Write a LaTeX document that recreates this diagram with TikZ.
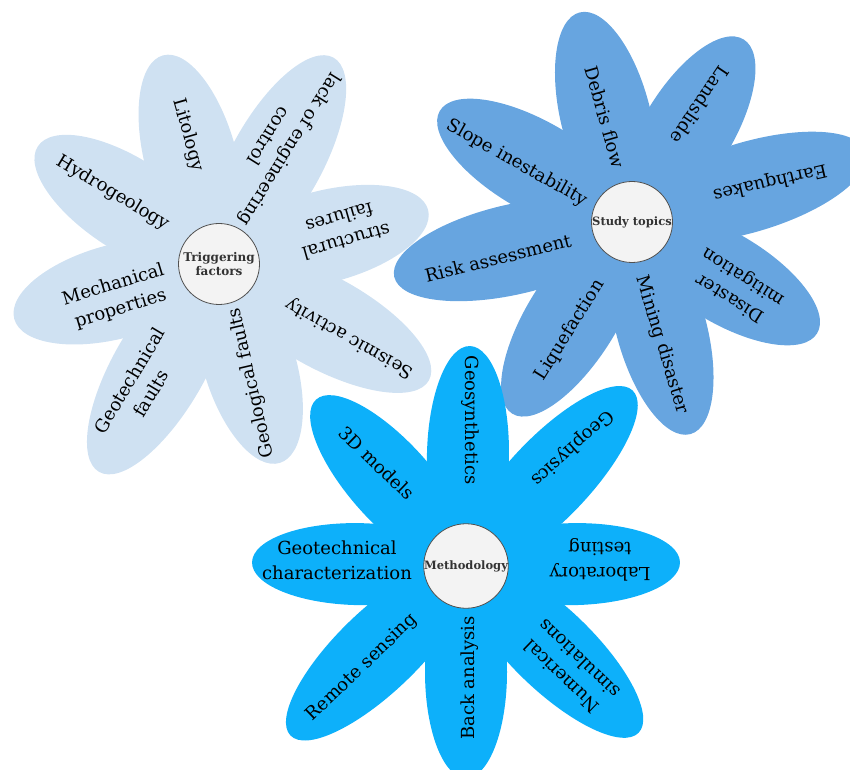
\documentclass[tikz,border=0pt]{standalone}
\usepackage{fontspec}
\setmainfont{DejaVu Serif}
\definecolor{fone}{HTML}{CFE1F2}
\definecolor{ftwo}{HTML}{67A5E0}
\definecolor{fthree}{HTML}{0DB0FA}
\definecolor{hubfill}{HTML}{F3F3F3}
\definecolor{hubline}{HTML}{505050}
\definecolor{hubtext}{HTML}{333333}
% colour, centre coordinate, angle, half length, half width
\newcommand\petalshape[5]{%
  \begin{scope}[shift={(#2)}, rotate=#3]
    \fill[#1] (#4,0) ellipse [x radius=#4pt, y radius=#5pt];
  \end{scope}}
\tikzset{
  lbl/.style={font=\fontsize{18}{25}\selectfont, align=center, inner sep=0pt, text=black},
  hubnode/.style={circle, draw=hubline, line width=0.8pt, fill=hubfill, minimum size=81pt,
    inner sep=0pt, font=\fontsize{11.5}{14}\selectfont\bfseries, text=hubtext, align=center}
}
\begin{document}
\begin{tikzpicture}[x=1pt, y=1pt]
\useasboundingbox (0,0) rectangle (850,769);
\coordinate (c1) at (219,505);
\coordinate (c2) at (632,547);
\coordinate (c3) at (466,203);
% ---------- flower 1 : Triggering factors ----------
\petalshape{fone}{c1}{105}{108}{46}
\petalshape{fone}{c1}{61}{118}{46}
\petalshape{fone}{c1}{14.5}{108}{46}
\petalshape{fone}{c1}{-29}{120}{46}
\petalshape{fone}{c1}{-73}{104}{46}
\petalshape{fone}{c1}{-120}{120}{46}
\petalshape{fone}{c1}{195}{106}{47}
\petalshape{fone}{c1}{147}{108}{46}
\node[lbl, rotate=-74] (litology) at (188,634) {Litology};
\node[lbl, rotate=238] (lack) at (280,626) {lack of engineering\\control};
\node[lbl, rotate=196] (structural) at (343,539) {structural\\failures};
\node[lbl, rotate=150.5] (seismic) at (350,431) {Seismic activity};
\node[lbl, rotate=103] (geofaults) at (252,386) {Geological faults};
\node[lbl, rotate=59] (gtfaults) at (140,382) {Geotechnical\\faults};
\node[lbl, rotate=17] (mech) at (117,472) {Mechanical\\properties};
\node[lbl, rotate=-31] (hydro) at (113,576) {Hydrogeology};
\node[hubnode, font=\fontsize{12}{14}\selectfont\bfseries] (hub1) at (c1) {Triggering\\factors};
% ---------- flower 2 : Study topics ----------
\petalshape{ftwo}{c2}{104}{108}{45}
\petalshape{ftwo}{c2}{58.6}{107}{45}
\petalshape{ftwo}{c2}{16.6}{122}{45}
\petalshape{ftwo}{c2}{-31}{108}{45}
\petalshape{ftwo}{c2}{-74.6}{110}{45}
\petalshape{ftwo}{c2}{-122}{113}{45}
\petalshape{ftwo}{c2}{193}{122}{45}
\petalshape{ftwo}{c2}{150}{111}{45}
\node[lbl, rotate=-74] (debris) at (605,652) {Debris flow};
\node[lbl, rotate=236] (landslide) at (700,664) {Landslide};
\node[lbl, rotate=193] (earthq) at (770,587) {Earthquakes};
\node[lbl, rotate=148] (disaster) at (737,482) {Disaster\\mitigation};
\node[lbl, rotate=-73] (mining) at (662,424) {Mining disaster};
\node[lbl, rotate=58] (liquef) at (570,439) {Liquefaction};
\node[lbl, rotate=14] (risk) at (498,511) {Risk assessment};
\node[lbl, rotate=-29.5] (slope) at (517,606) {Slope inestability};
\node[hubnode] (hub2) at (c2) {Study topics};
% ---------- flower 3 : Methodology ----------
\petalshape{fthree}{c3}{89}{110}{41}
\petalshape{fthree}{c3}{46.5}{121}{41}
\petalshape{fthree}{c3}{1}{107}{41}
\petalshape{fthree}{c3}{-44}{120}{41}
\petalshape{fthree}{c3}{-90}{106}{41}
\petalshape{fthree}{c3}{-136}{122}{41}
\petalshape{fthree}{c3}{179}{107}{41}
\petalshape{fthree}{c3}{132}{112}{41}
\node[lbl, rotate=-90] (geosyn) at (470,349) {Geosynthetics};
\node[lbl, rotate=222] (geophys) at (572,321) {Geophysics};
\node[lbl, rotate=180] (lab) at (600,209) {Laboratory\\testing};
\node[lbl, rotate=136] (numerical) at (570,101) {Numerical\\simulations};
\node[lbl, rotate=90] (back) at (470,91) {Back analysis};
\node[lbl, rotate=44] (remote) at (362,101) {Remote sensing};
\node[lbl, rotate=0] (gtchar) at (337,209) {Geotechnical\\characterization};
\node[lbl, rotate=-44] (models) at (377,306) {3D models};
\node[hubnode] (hub3) at (c3) {Methodology};
\end{tikzpicture}
\end{document}
